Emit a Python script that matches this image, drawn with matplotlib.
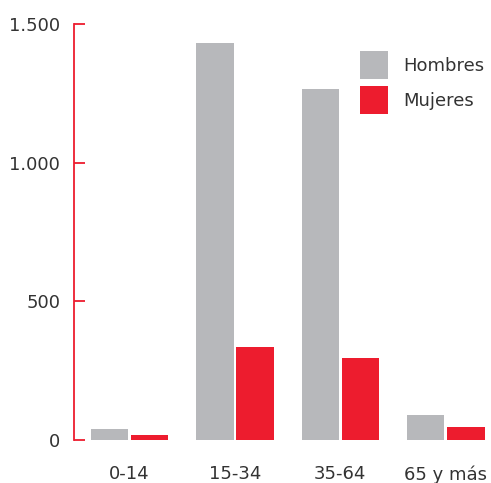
import matplotlib.pyplot as plt
import matplotlib.ticker as mticker
import numpy as np

# data
grupos = ["0-14", "15-34", "35-64", "65 y más"]
hombres = [40, 1430, 1266, 89]
mujeres = [19, 337, 296, 48]
yticks = [0, 500, 1000, 1500]

gris = "#b7b8bb"
rojo = "#ed1c2e"
texto = "#333333"

W, H = 491, 483
fig = plt.figure(figsize=(W / 100, H / 100), dpi=100)
ax = fig.add_axes([74 / W, (H - 440) / H, (489 - 74) / W, (440 - 24) / H])

x = np.arange(len(grupos))
ancho = 0.355
ax.bar(x - ancho / 2 - 0.013, hombres, ancho, color=gris, label="Hombres")
ax.bar(x + ancho / 2 + 0.013, mujeres, ancho, color=rojo, label="Mujeres")

ax.set_xlim(-0.526, 3.41)
ax.set_ylim(0, 1500)

for s in ["top", "right", "bottom"]:
    ax.spines[s].set_visible(False)
ax.spines["left"].set_color(rojo)
ax.spines["left"].set_linewidth(1.3)

ax.set_yticks(yticks)
ax.yaxis.set_major_formatter(mticker.FuncFormatter(lambda v, p: f"{int(v):,}".replace(",", ".")))
ax.tick_params(axis="y", direction="in", length=8, width=1.3, color=rojo,
               labelsize=13, labelcolor=texto, pad=10)
ax.set_xticks(x)
ax.set_xticklabels(grupos)
ax.tick_params(axis="x", length=0, labelsize=13, labelcolor=texto, pad=18)

fig.legend(loc="upper left", bbox_to_anchor=(360 / W, 1 - 51 / H), frameon=False,
           fontsize=13, handlelength=1.55, handleheight=2.02, labelspacing=0.39,
           handletextpad=0.85, borderpad=0, borderaxespad=0, labelcolor=texto)

fig.savefig("out.png", dpi=100)
